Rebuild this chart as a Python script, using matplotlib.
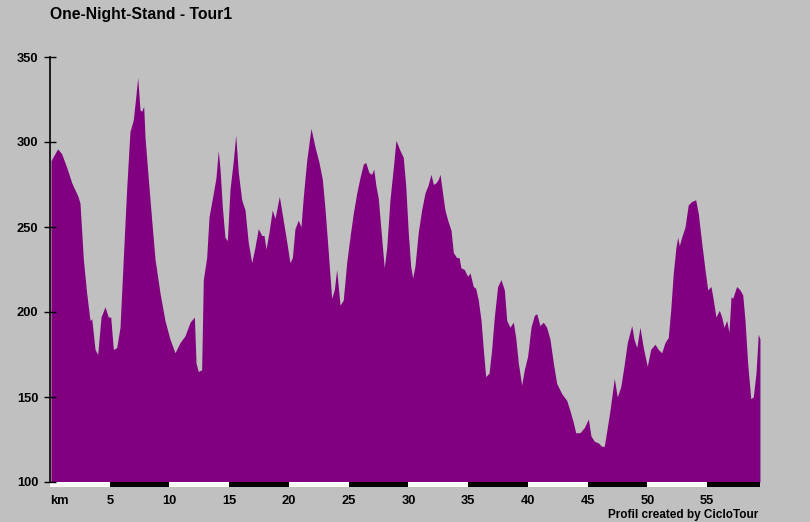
import matplotlib.pyplot as plt

# elevation profile (km, metres)
km = [0.08, 0.64, 0.98, 1.40, 1.82, 2.34, 2.51, 2.79, 3.07, 3.35, 3.49, 3.77, 3.99,
      4.27, 4.60, 4.88, 5.08, 5.30, 5.58, 5.86, 6.13, 6.42, 6.69, 6.97, 7.17, 7.34,
      7.53, 7.67, 7.84, 7.95, 8.23, 8.51, 8.79, 9.21, 9.62, 10.04, 10.46, 10.88,
      11.30, 11.72, 12.08, 12.22, 12.41, 12.69, 12.83, 13.11, 13.31, 13.67, 13.89,
      14.08, 14.23, 14.42, 14.64, 14.84, 15.06, 15.34, 15.54, 15.76, 16.04, 16.32,
      16.59, 16.88, 17.15, 17.43, 17.72, 17.91, 18.08, 18.33, 18.60, 18.83, 19.19,
      19.47, 19.75, 20.08, 20.28, 20.50, 20.78, 21.00, 21.20, 21.48, 21.84, 22.18,
      22.51, 22.79, 23.01, 23.29, 23.57, 23.79, 23.99, 24.27, 24.54, 24.83, 25.10,
      25.38, 25.67, 25.94, 26.22, 26.42, 26.69, 26.92, 27.09, 27.28, 27.47, 27.70,
      27.97, 28.18, 28.45, 28.73, 28.95, 29.29, 29.56, 29.77, 29.98, 30.18, 30.35,
      30.54, 30.82, 31.10, 31.38, 31.66, 31.88, 32.08, 32.30, 32.49, 32.64, 32.83,
      33.05, 33.28, 33.56, 33.75, 34.03, 34.23, 34.39, 34.67, 34.95, 35.15, 35.42,
      35.62, 35.84, 36.07, 36.26, 36.46, 36.74, 36.96, 37.18, 37.46, 37.74, 38.02,
      38.22, 38.49, 38.77, 38.97, 39.19, 39.47, 39.69, 39.97, 40.25, 40.53, 40.73,
      41.00, 41.28, 41.56, 41.84, 42.12, 42.40, 42.82, 43.24, 43.51, 43.79, 43.99,
      44.35, 44.71, 45.05, 45.27, 45.55, 45.88, 46.17, 46.38, 46.59, 46.86, 47.22,
      47.47, 47.76, 48.03, 48.31, 48.68, 48.87, 49.10, 49.37, 49.65, 49.98, 50.27,
      50.63, 50.90, 51.19, 51.46, 51.74, 51.94, 52.16, 52.38, 52.53, 52.66, 52.86,
      53.14, 53.41, 53.70, 54.03, 54.25, 54.53, 54.81, 55.04, 55.31, 55.51, 55.73,
      56.01, 56.21, 56.40, 56.63, 56.82, 56.99, 57.13, 57.46, 57.74, 57.97, 58.16,
      58.38, 58.64, 58.85, 59.08, 59.27, 59.41]
elev = [289, 296, 293, 285, 276, 268, 264, 231, 211, 195, 196, 178, 175,
        197, 203, 197, 197, 178, 179, 191, 231, 273, 306, 313, 326, 338,
        319, 318, 321, 303, 278, 254, 231, 211, 195, 184, 176, 182,
        186, 194, 197, 170, 165, 166, 219, 232, 256, 270, 279,
        295, 284, 262, 244, 242, 272, 289, 304, 282, 266, 260,
        241, 229, 238, 249, 245, 245, 237, 247, 260, 255, 268,
        256, 244, 229, 232, 249, 254, 250, 268, 289, 308, 297,
        288, 278, 261, 235, 208, 213, 225, 204, 207, 229, 244,
        258, 270, 279, 287, 288, 282, 281, 284, 274, 267, 248,
        226, 238, 266, 285, 301, 295, 291, 274, 247, 227, 220,
        227, 247, 260, 270, 275, 281, 275, 276, 278, 281, 271,
        260, 254, 248, 235, 232, 232, 226, 225, 221, 223, 215,
        214, 207, 195, 178, 162, 164, 178, 197, 215, 219, 213,
        195, 191, 194, 185, 170, 157, 166, 174, 191, 198, 199,
        192, 194, 191, 184, 170, 158, 152, 148, 142, 135, 129,
        129, 132, 137, 127, 124, 123, 121, 121, 130, 142, 161,
        150, 156, 168, 182, 192, 184, 179, 191, 179, 168, 178,
        181, 178, 176, 182, 185, 201, 223, 238, 244, 239, 244,
        250, 263, 265, 266, 258, 241, 225, 213, 215, 207, 197,
        201, 197, 191, 195, 188, 209, 208, 215, 213, 210, 195,
        170, 149, 150, 164, 187, 184]

yticks = [100, 150, 200, 250, 300, 350]
xticks = [0, 5, 10, 15, 20, 25, 30, 35, 40, 45, 50, 55]
xlabels = ['km', '5', '10', '15', '20', '25', '30', '35', '40', '45', '50', '55']

bg = '#c0c0c0'
purple = '#800080'
plt.rcParams['font.family'] = ['Liberation Sans', 'DejaVu Sans']

fig = plt.figure(figsize=(8.1, 5.22), dpi=100, facecolor=bg)
ax = fig.add_axes([50 / 810, 1 - 482 / 522, 710 / 810, 425 / 522])
ax.set_facecolor(bg)

ax.fill_between(km, elev, 100, color=purple, linewidth=0)
# thin dark edge at the end of the profile
ax.plot([km[-1], km[-1]], [100, elev[-1]], color='#404090', linewidth=1)

x_end = (760 - 50) / 11.95
ax.set_xlim(0, x_end)
ax.set_ylim(100, 350)

# distance bar under the profile, 5 km segments
starts = list(range(0, 60, 5))
for i, s in enumerate(starts):
    e = min(s + 5, x_end)
    col = 'white' if i % 2 == 0 else 'black'
    ax.fill_between([s, e], 97.3, 100, color=col, linewidth=0, clip_on=False)

for side in ['top', 'right', 'bottom']:
    ax.spines[side].set_visible(False)
ax.spines['left'].set_color('black')
ax.spines['left'].set_linewidth(1.2)

ax.set_yticks(yticks)
ax.set_yticklabels([str(v) for v in yticks], fontsize=9.3, fontweight='bold')
ax.tick_params(axis='y', direction='inout', length=9, width=1, pad=4, colors='black')

ax.set_xticks(xticks)
ax.set_xticklabels(xlabels, fontsize=9.3, fontweight='bold')
ax.tick_params(axis='x', length=0, pad=9)
ax.get_xticklabels()[0].set_horizontalalignment('left')

fig.text(50 / 810, 1 - 14 / 522, 'One-Night-Stand - Tour1', fontsize=11.3,
         fontweight='bold', ha='left', va='center')
fig.text(758 / 810, 1 - 515 / 522, 'Profil created by CicloTour', fontsize=8.5,
         fontweight='bold', ha='right', va='center')

fig.savefig('out.png', dpi=100, facecolor=bg)
